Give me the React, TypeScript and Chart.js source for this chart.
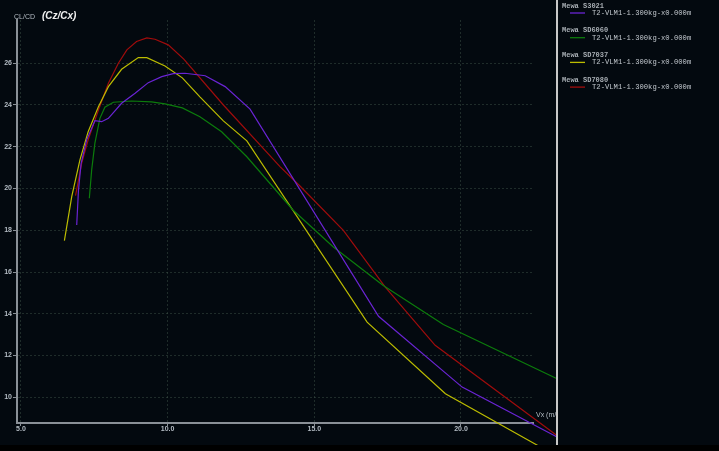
import React, { useEffect, useRef } from 'react';
import { Chart, registerables } from 'chart.js';

Chart.register(...registerables);

// ---- data ----
const foilNames = ['Mewa S3021', 'Mewa SD6060', 'Mewa SD7037', 'Mewa SD7080'];
const polarName = 'T2-VLM1-1.300kg-x0.000m';
const lineColors = ['#6a24d4', '#0c7c0c', '#bcbc00', '#a00c0c'];

const s3021Vx = [6.90, 6.96, 7.05, 7.24, 7.52, 7.75, 7.98, 8.43, 8.89, 9.34, 9.80, 10.19, 10.59, 11.28, 11.96, 12.81, 17.19, 20.04, 23.26];
const s3021Ratio = [18.25, 19.93, 21.21, 22.33, 23.25, 23.2, 23.36, 24.08, 24.56, 25.07, 25.36, 25.5, 25.52, 25.4, 24.88, 23.8, 13.88, 10.49, 8.11];

const sd6060Vx = [7.33, 7.41, 7.52, 7.69, 7.86, 8.15, 8.77, 9.45, 9.91, 10.5, 11.1, 11.84, 12.7, 13.49, 14.28, 15.65, 17.35, 19.40, 23.26];
const sd6060Ratio = [19.53, 20.89, 22.17, 23.36, 23.89, 24.13, 24.19, 24.15, 24.05, 23.86, 23.44, 22.72, 21.52, 20.24, 18.96, 17.2, 15.36, 13.49, 10.9];

const sd7037Vx = [6.48, 6.73, 7.01, 7.29, 7.64, 7.98, 8.43, 9.0, 9.29, 9.91, 10.5, 11.1, 11.9, 12.7, 16.8, 19.47, 22.65];
const sd7037Ratio = [17.5, 19.61, 21.37, 22.72, 23.92, 24.88, 25.71, 26.27, 26.27, 25.87, 25.3, 24.39, 23.24, 22.28, 13.6, 10.17, 7.67];

const sd7080Vx = [6.86, 7.07, 7.29, 7.64, 7.98, 8.32, 8.61, 8.94, 9.29, 9.57, 10.02, 10.55, 11.9, 13.83, 14.52, 15.99, 17.42, 19.12, 23.26];
const sd7080Ratio = [19.66, 21.22, 22.33, 23.76, 25.04, 26.0, 26.64, 27.04, 27.21, 27.15, 26.88, 26.2, 24.0, 21.05, 20.11, 18.0, 15.28, 12.49, 8.18];

const xTickValues = [5, 10, 15, 20];
const yTickValues = [10, 12, 14, 16, 18, 20, 22, 24, 26];

const seriesVx = [s3021Vx, sd6060Vx, sd7037Vx, sd7080Vx];
const seriesRatio = [s3021Ratio, sd6060Ratio, sd7037Ratio, sd7080Ratio];

const BG = '#03090f';
const AXIS = '#8a9097';
const LABEL = '#b4bcc4';
const GRID = 'rgba(72,92,82,0.42)';

const decorPlugin = {
  id: 'decor',
  beforeDraw(chart: any) {
    const { ctx, width, height } = chart;
    ctx.save();
    ctx.fillStyle = BG;
    ctx.fillRect(0, 0, width, height);
    ctx.restore();
  },
  afterDraw(chart: any) {
    const { ctx, width, height } = chart;
    ctx.save();
    // axis titles
    ctx.fillStyle = LABEL;
    ctx.font = '7px "Liberation Sans", sans-serif';
    ctx.textBaseline = 'middle';
    ctx.textAlign = 'left';
    ctx.fillText('CL/CD', 14, 17);
    ctx.fillStyle = '#f0f0f0';
    ctx.font = 'bold italic 10px "Liberation Sans", sans-serif';
    ctx.fillText('(Cz/Cx)', 42, 16);
    ctx.save();
    ctx.beginPath();
    ctx.rect(0, 0, 556, height);
    ctx.clip();
    ctx.fillStyle = LABEL;
    ctx.font = '7px "Liberation Sans", sans-serif';
    ctx.fillText('Vx (m/s)', 536, 415);
    ctx.restore();

    // right legend panel
    ctx.fillStyle = BG;
    ctx.fillRect(558, 0, width - 558, height);
    ctx.fillStyle = '#000000';
    ctx.fillRect(0, 445, width, height - 445);
    ctx.strokeStyle = '#c8c8c8';
    ctx.lineWidth = 2;
    ctx.beginPath();
    ctx.moveTo(557, 0);
    ctx.lineTo(557, 445);
    ctx.stroke();

    chart.data.datasets.forEach((ds: any, i: number) => {
      const y0 = 6 + i * 24.7;
      ctx.fillStyle = '#a8aeb4';
      ctx.font = 'bold 7px "Liberation Mono", monospace';
      ctx.textAlign = 'left';
      ctx.textBaseline = 'middle';
      ctx.fillText(ds.label, 562, y0);
      ctx.strokeStyle = ds.borderColor;
      ctx.lineWidth = 1.3;
      ctx.beginPath();
      ctx.moveTo(570, y0 + 7);
      ctx.lineTo(585, y0 + 7);
      ctx.stroke();
      ctx.fillStyle = '#c0c6cc';
      ctx.font = '7.2px "Liberation Mono", monospace';
      ctx.fillText(polarName, 592, y0 + 7);
    });
    ctx.restore();
  },
};

export default function App() {
  const ref = useRef<HTMLCanvasElement | null>(null);

  useEffect(() => {
    if (!ref.current) return;
    const datasets = foilNames.map((name, i) => ({
      label: name,
      data: seriesVx[i].map((x, j) => ({ x, y: seriesRatio[i][j] })),
      borderColor: lineColors[i],
      backgroundColor: lineColors[i],
      borderWidth: 1.2,
      pointRadius: 0,
      tension: 0,
      fill: false,
      clip: false as any,
    }));

    const chart = new Chart(ref.current, {
      type: 'line',
      data: { datasets },
      options: {
        animation: false,
        responsive: false,
        maintainAspectRatio: false,
        layout: { padding: { top: 20, right: 186, left: 0, bottom: 0 } },
        plugins: {
          legend: { display: false },
          tooltip: { enabled: false },
          title: { display: false },
        },
        scales: {
          x: {
            type: 'linear',
            min: 4.864,
            max: 22.456,
            afterBuildTicks: (s: any) => {
              s.ticks = xTickValues.map((v) => ({ value: v }));
            },
            afterFit: (s: any) => {
              s.height = 28;
            },
            ticks: {
              color: LABEL,
              font: { family: '"Liberation Sans", sans-serif', size: 7, weight: 'bold', lineHeight: 1 },
              padding: 0,
              maxRotation: 0,
              autoSkip: false,
              callback: (v: any) => Number(v).toFixed(1),
            },
            grid: { color: GRID, lineWidth: 1, tickLength: 3, tickColor: AXIS },
            border: { display: true, color: AXIS, width: 2, dash: [2, 2] },
          },
          y: {
            type: 'linear',
            min: 8.77,
            max: 28.07,
            afterBuildTicks: (s: any) => {
              s.ticks = yTickValues.map((v) => ({ value: v }));
            },
            afterFit: (s: any) => {
              s.width = 17;
            },
            ticks: {
              color: LABEL,
              font: { family: '"Liberation Sans", sans-serif', size: 7, weight: 'bold', lineHeight: 1 },
              padding: 1,
              autoSkip: false,
            },
            grid: { color: GRID, lineWidth: 1, tickLength: 4, tickColor: AXIS },
            border: { display: true, color: AXIS, width: 2, dash: [2, 2] },
          },
        },
      },
      plugins: [decorPlugin],
    });
    return () => chart.destroy();
  }, []);

  return (
    <div style={{ position: 'fixed', left: 0, top: 0, width: 719, height: 451, background: BG }}>
      <canvas ref={ref} width={719} height={451} style={{ display: 'block', width: 719, height: 451 }} />
    </div>
  );
}
